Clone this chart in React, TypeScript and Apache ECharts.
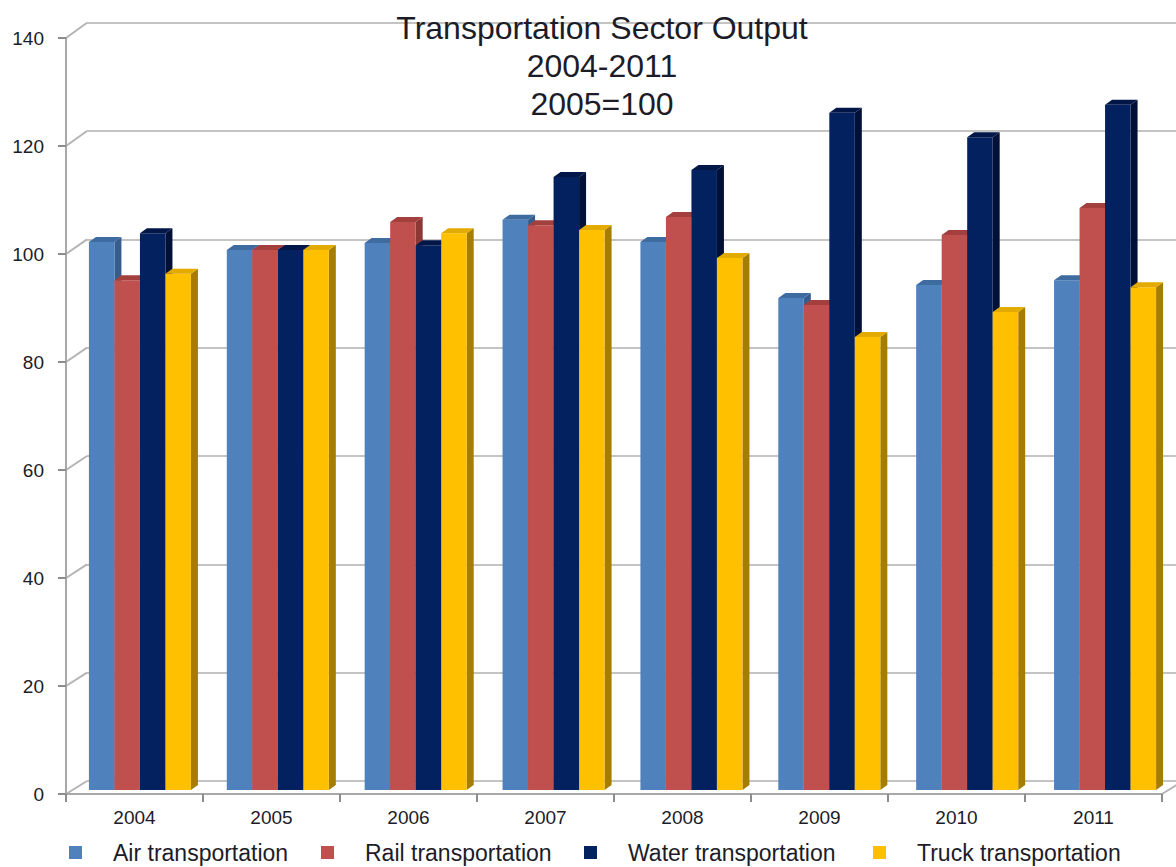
import React, { useEffect, useRef } from "react";
import * as echarts from "echarts";

const years = ["2004", "2005", "2006", "2007", "2008", "2009", "2010", "2011"];
const yTicks = [0, 20, 40, 60, 80, 100, 120, 140];
const seriesNames = ["Air transportation", "Rail transportation", "Water transportation", "Truck transportation"];
const air = [101.5, 100, 101.3, 105.6, 101.5, 91.1, 93.5, 94.4];
const rail = [94.4, 100, 105.2, 104.6, 106.1, 89.8, 102.8, 107.8];
const water = [103.1, 100, 100.9, 113.5, 114.8, 125.4, 120.9, 126.9];
const truck = [95.6, 100, 103.1, 103.7, 98.5, 83.9, 88.5, 93.1];
const allValues = [air, rail, water, truck];

const frontColors = ["#4F81BD", "#C0504D", "#03205F", "#FFC000"];
const topColors = ["#3E6BA0", "#A3403E", "#021748", "#E3AA00"];
const sideColors = ["#375D8C", "#8C3836", "#011036", "#A57D00"];
const legendLeft = [64, 316, 579, 868];

const FONT = "'Liberation Sans', Arial, sans-serif";
const TXT = "#1c1c28";

export default function App() {
  const ref = useRef<HTMLDivElement>(null);
  useEffect(() => {
    if (!ref.current) return;
    const chart = echarts.init(ref.current, null, { renderer: "svg" });

    const barSeries = allValues.map((vals, s) => ({
      type: "custom",
      name: seriesNames[s],
      xAxisIndex: 2,
      yAxisIndex: 2,
      itemStyle: { color: frontColors[s] },
      encode: { x: 0, y: 1 },
      data: vals.map((v, i) => [i, v]),
      renderItem: (params: any, api: any) => {
        const c = api.value(0);
        const v = api.value(1);
        const base = api.coord([c, 0]);
        const top = api.coord([c, v]);
        const band = api.size([1, 0])[0];
        const w = band * 0.185;
        const x0 = base[0] - 2 * w + s * w;
        const yb = base[1];
        const yt = top[1];
        const d = 7;
        const dy = 5;
        return {
          type: "group",
          children: [
            {
              type: "polygon",
              shape: { points: [[x0 + w, yt], [x0 + w + d, yt - dy], [x0 + w + d, yb - dy], [x0 + w, yb]] },
              style: { fill: sideColors[s] },
            },
            {
              type: "rect",
              shape: { x: x0, y: yt, width: w, height: yb - yt },
              style: { fill: frontColors[s] },
            },
            {
              type: "polygon",
              shape: { points: [[x0, yt], [x0 + d, yt - dy], [x0 + w + d, yt - dy], [x0 + w, yt]] },
              style: { fill: topColors[s] },
            },
          ],
        };
      },
    }));

    const option: any = {
      animation: false,
      backgroundColor: "#ffffff",
      title: {
        text: "Transportation Sector Output\n2004-2011\n2005=100",
        left: 597,
        top: 4,
        textAlign: "center",
        textStyle: { fontFamily: FONT, fontSize: 32, fontWeight: "normal", color: TXT, lineHeight: 38 },
      },
      legend: seriesNames.map((n, i) => ({
        data: [n],
        left: legendLeft[i],
        top: 836,
        icon: "rect",
        itemWidth: 13,
        itemHeight: 13,
        selectedMode: false,
        textStyle: { fontFamily: FONT, fontSize: 23, color: TXT, padding: [0, 0, 0, 26] },
      })),
      grid: [
        { left: 87, right: -30, top: 22.7, bottom: 86 },
        { left: 66, right: 14, top: 38, bottom: 73 },
        { left: 71, right: 2, top: 34, bottom: 77 },
      ],
      xAxis: [
        { type: "category", gridIndex: 0, data: years, show: false },
        {
          type: "category",
          gridIndex: 1,
          data: years,
          axisLine: { lineStyle: { color: "#a8a8a8", width: 2 } },
          axisTick: { show: true, length: 8, alignWithLabel: false, lineStyle: { color: "#8c8c8c", width: 2 } },
          axisLabel: { fontFamily: FONT, fontSize: 19, color: TXT, margin: 14 },
        },
        { type: "category", gridIndex: 2, data: years, show: false },
      ],
      yAxis: [
        {
          type: "value",
          gridIndex: 0,
          min: 0,
          max: 140,
          interval: 20,
          axisLine: { show: false },
          axisTick: { show: false },
          axisLabel: { show: false },
          splitLine: { show: true, lineStyle: { color: "#c4c4c4", width: 2 } },
        },
        {
          type: "value",
          gridIndex: 1,
          min: 0,
          max: 140,
          interval: 20,
          axisLine: { show: true, lineStyle: { color: "#a8a8a8", width: 2 } },
          axisTick: { show: true, length: 8, lineStyle: { color: "#8c8c8c", width: 2 } },
          axisLabel: { fontFamily: FONT, fontSize: 19, color: TXT, margin: 22 },
          splitLine: { show: false },
        },
        { type: "value", gridIndex: 2, min: 0, max: 140, interval: 20, show: false, splitLine: { show: false } },
      ],
      series: barSeries,
    };
    chart.setOption(option);

    // wall connectors between the front axis and the back wall
    const lines: any[] = [];
    yTicks.forEach((v) => {
      const yf = chart.convertToPixel({ yAxisIndex: 1 } as any, v) as any;
      const yb = chart.convertToPixel({ yAxisIndex: 0 } as any, v) as any;
      lines.push({
        type: "line",
        shape: { x1: 66, y1: yf, x2: 87, y2: yb },
        style: { stroke: "#b4b4b4", lineWidth: 2 },
        silent: true,
      });
    });
    const yf0 = chart.convertToPixel({ yAxisIndex: 1 } as any, 0) as any;
    const yb0 = chart.convertToPixel({ yAxisIndex: 0 } as any, 0) as any;
    lines.push({
      type: "line",
      shape: { x1: 1162, y1: yf0, x2: 1183, y2: yb0 },
      style: { stroke: "#b4b4b4", lineWidth: 2 },
      silent: true,
    });
    chart.setOption({ graphic: lines });

    return () => chart.dispose();
  }, []);
  return (
    <div
      ref={ref}
      style={{ position: "fixed", left: 0, top: 0, width: 1176, height: 867, background: "#fff" }}
    />
  );
}
